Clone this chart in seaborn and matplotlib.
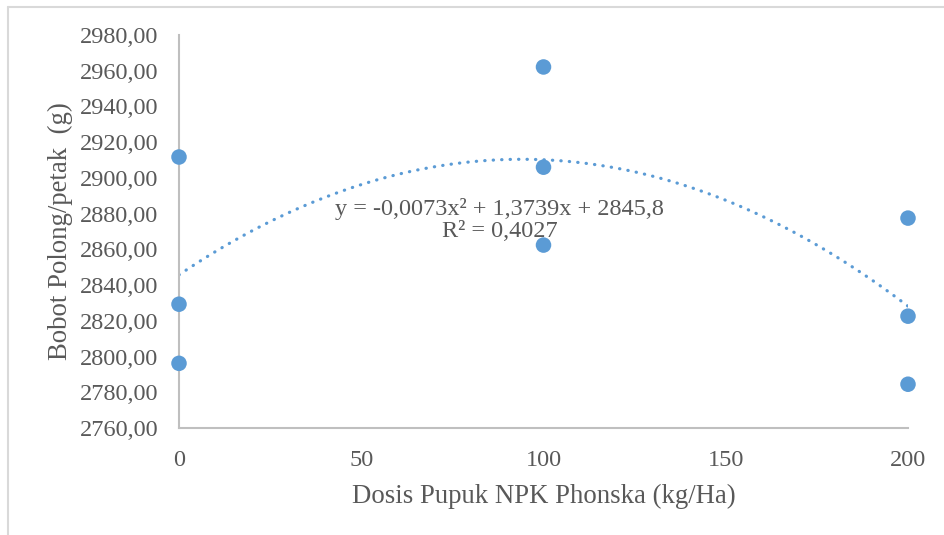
import matplotlib
matplotlib.use("Agg")
import matplotlib.pyplot as plt
import seaborn as sns
import numpy as np
import pandas as pd
from matplotlib.lines import Line2D

# ---- data ----
dosis = [0, 0, 0, 100, 100, 100, 200, 200, 200]
bobot = [2911.7, 2829.3, 2796.2, 2962.1, 2906.0, 2862.4, 2877.5, 2822.6, 2784.5]
x_ticks = [0, 50, 100, 150, 200]
y_ticks = [2760, 2780, 2800, 2820, 2840, 2860, 2880, 2900, 2920, 2940, 2960, 2980]
eq_text = "y = -0,0073x² + 1,3739x + 2845,8\nR² = 0,4027"
x_label = "Dosis Pupuk NPK Phonska (kg/Ha)"
y_label = "Bobot Polong/petak  (g)"

df = pd.DataFrame({"dosis": dosis, "bobot": bobot})

sns.set_theme(style="white")
plt.rcParams["font.family"] = ["Liberation Serif", "DejaVu Serif"]

blue = "#5B9BD5"
gray_txt = "#595959"
gray_ax = "#BFBFBF"

fig = plt.figure(figsize=(9.44, 5.35), dpi=100)
ax = fig.add_axes([179 / 944, 1 - 428 / 535, (908 - 179) / 944, (428 - 35) / 535])

sns.regplot(data=df, x="dosis", y="bobot", order=2, ci=None, ax=ax,
            scatter_kws=dict(s=125, color=blue, edgecolor="none", alpha=1, clip_on=False, zorder=3),
            line_kws=dict(color=blue, lw=2.3, linestyle=(0, (0.1, 2.55)),
                          dash_capstyle="round", zorder=2))

ax.set_xlim(0, 200)
ax.set_ylim(2760, 2980)
ax.set_xticks(x_ticks)
ax.set_yticks(y_ticks)
ax.set_xticklabels([str(v) for v in x_ticks])
ax.set_yticklabels([f"{v},00" for v in y_ticks])
ax.tick_params(axis="both", length=0, labelsize=17.5, colors=gray_txt)
ax.tick_params(axis="y", pad=15)
ax.tick_params(axis="x", pad=16)

for s in ["top", "right"]:
    ax.spines[s].set_visible(False)
for s in ["left", "bottom"]:
    ax.spines[s].set_color(gray_ax)
    ax.spines[s].set_linewidth(1.5)

ax.set_xlabel(x_label, fontsize=19.3, color=gray_txt, labelpad=9)
ax.set_ylabel(y_label, fontsize=19.3, color=gray_txt, labelpad=5)
ax.grid(False)

ax.text(88, 2876.5, eq_text, ha="center", va="center", fontsize=17.5,
        color=gray_txt, linespacing=1.05, zorder=4)

# outer chart border (top and left visible in crop)
fig.add_artist(Line2D([8 / 944, 8 / 944], [0, 1 - 6.5 / 535], transform=fig.transFigure,
                      color="#D9D9D9", lw=1.5))
fig.add_artist(Line2D([8 / 944, 1], [1 - 6.5 / 535, 1 - 6.5 / 535], transform=fig.transFigure,
                      color="#D9D9D9", lw=1.5))

fig.savefig("out.png", dpi=100)
